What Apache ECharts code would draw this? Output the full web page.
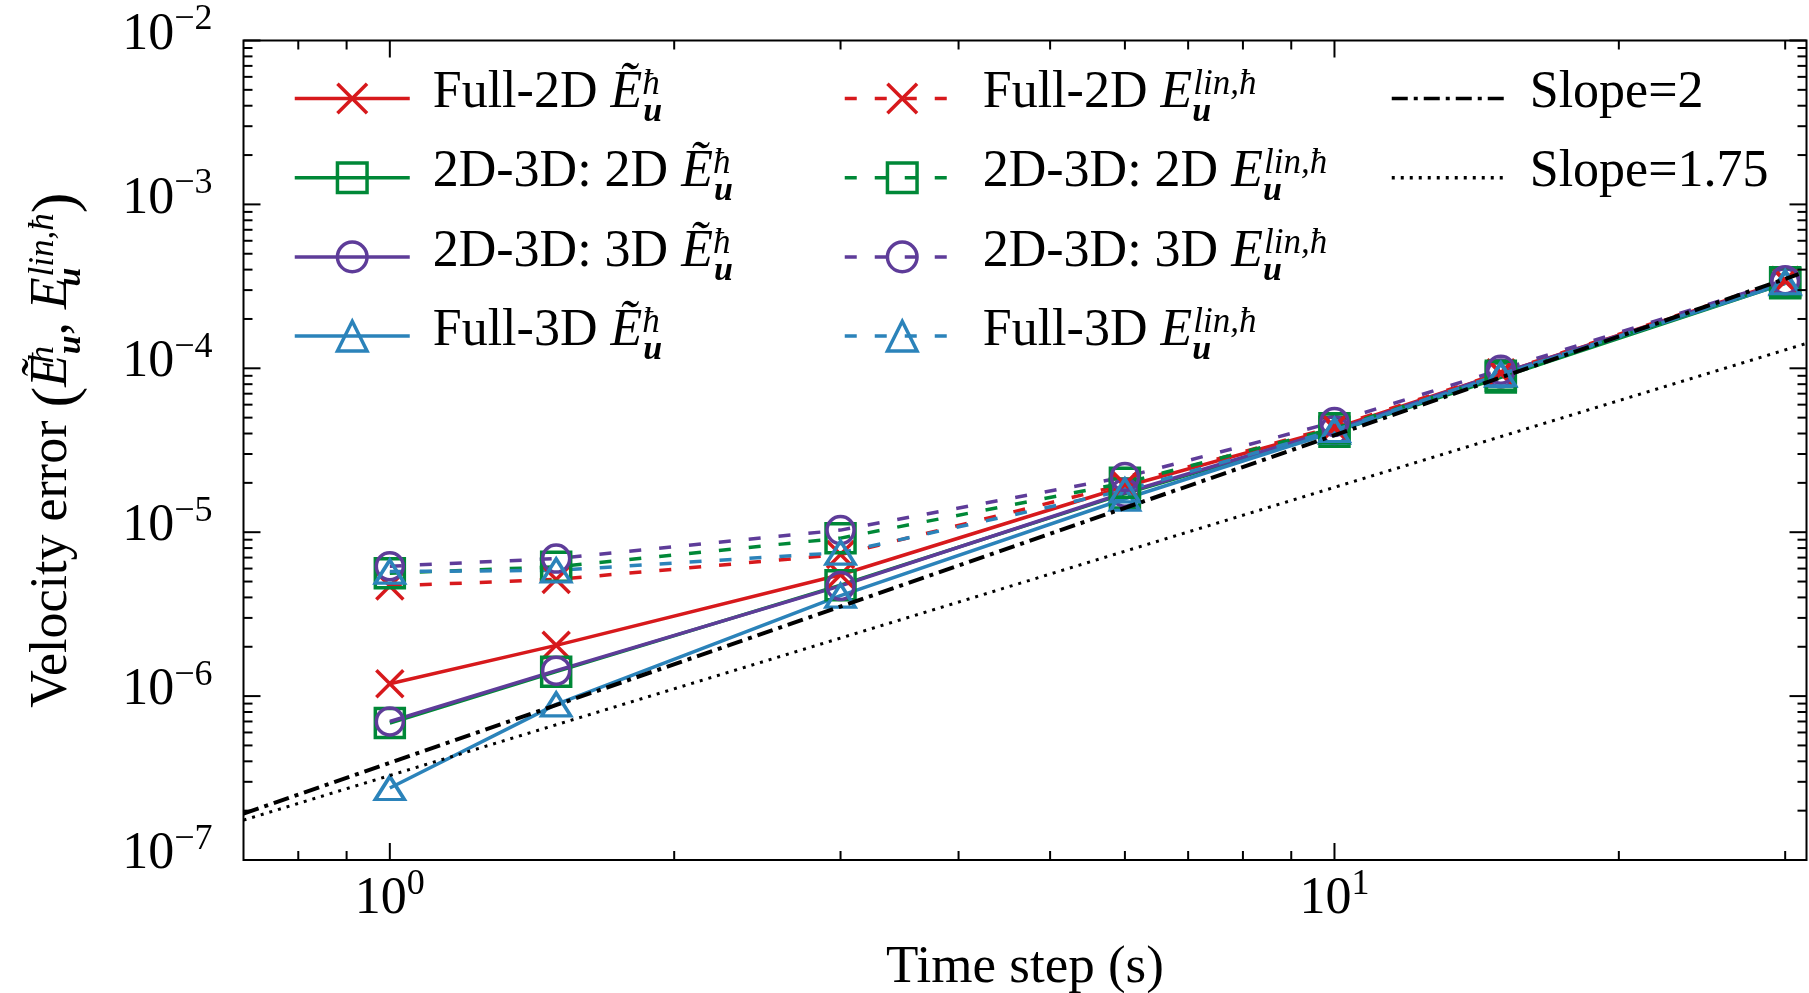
<!DOCTYPE html>
<html>
<head>
<meta charset="utf-8">
<script src="https://cdn.jsdelivr.net/npm/echarts@6/dist/echarts.min.js"></script>
<style>
  html, body { margin: 0; padding: 0; background: #ffffff; }
  #chart { width: 1809px; height: 993px; }
</style>
</head>
<body>
<div id="chart"></div>
<script>
// Time steps (s)
const timeSteps = [1, 1.5, 3, 6, 10, 15, 30];

// Velocity error, tilde-E (solid lines)
const full2dTilde   = [1.19e-6, 2.04e-6, 5.5e-6, 1.9e-5, 4.3e-5, 9.3e-5, 3.4e-4];
const split2dTilde  = [6.85e-7, 1.41e-6, 4.75e-6, 1.72e-5, 4.1e-5, 8.8e-5, 3.3e-4];
const split3dTilde  = [7.0e-7, 1.43e-6, 4.7e-6, 1.74e-5, 4.2e-5, 9.3e-5, 3.35e-4];
const full3dTilde   = [2.75e-7, 8.9e-7, 4.1e-6, 1.6e-5, 4.1e-5, 9.1e-5, 3.3e-4];

// Velocity error, linearised E (dashed lines)
const full2dLin  = [4.7e-6, 5.15e-6, 7.3e-6, 1.96e-5, 4.4e-5, 9.4e-5, 3.45e-4];
const split2dLin = [5.62e-6, 6.15e-6, 9.2e-6, 2.0e-5, 4.3e-5, 9.0e-5, 3.35e-4];
const split3dLin = [6.2e-6, 6.9e-6, 1.03e-5, 2.17e-5, 4.7e-5, 9.8e-5, 3.45e-4];
const full3dLin  = [5.75e-6, 5.85e-6, 7.5e-6, 1.8e-5, 4.2e-5, 9.2e-5, 3.35e-4];

// Reference slopes (end points)
const slope2X = [0.7, 31];
const slope2Y = [1.92e-7, 3.75e-4];
const slope175X = [0.7, 31.6];
const slope175Y = [1.75e-7, 1.42e-4];

// Axis ranges and ticks
const xRange = [0.7, 31.6];
const yRange = [1e-7, 1e-2];
const xMajorTicks = [1, 10];
const xMinorTicks = [0.8, 0.9, 2, 3, 4, 5, 6, 7, 8, 9, 20, 30];
const yMajorTicks = [1e-7, 1e-6, 1e-5, 1e-4, 1e-3, 1e-2];
const yMinorMantissas = [2, 3, 4, 5, 6, 7, 8, 9];

const seriesLabels = ['Full-2D', '2D-3D: 2D', '2D-3D: 3D', 'Full-3D'];
const colors = ['#d7191c', '#008837', '#5e3c99', '#2b83ba'];
const markers = ['path://M0,0L10,10M10,0L0,10', 'rect', 'circle', 'triangle'];
const markerSizes = [27, 29, 27, [29, 23]];

const FONT = 'Liberation Serif';
const LINE_W = 3.5;

const pair = (xs, ys) => xs.map((x, i) => [x, ys[i]]);

const tildeSets = [full2dTilde, split2dTilde, split3dTilde, full3dTilde];
const linSets = [full2dLin, split2dLin, split3dLin, full3dLin];

function dataSeries(i, values, dashed) {
  return {
    type: 'line',
    name: seriesLabels[i] + (dashed ? ' E' : ' Ẽ'),
    data: pair(timeSteps, values),
    symbol: markers[i],
    symbolSize: markerSizes[i],
    showSymbol: true,
    lineStyle: { color: colors[i], width: LINE_W, type: dashed ? [12, 18] : 'solid' },
    itemStyle: { color: 'transparent', borderColor: colors[i], borderWidth: LINE_W, borderJoin: 'miter' },
    emphasis: { disabled: true },
    z: 2
  };
}

const series = [];
tildeSets.forEach((v, i) => series.push(dataSeries(i, v, false)));
linSets.forEach((v, i) => series.push(dataSeries(i, v, true)));

series.push({
  type: 'line', name: 'Slope=2', data: pair(slope2X, slope2Y), symbol: 'none',
  lineStyle: { color: '#000', width: 4, type: [16, 6, 4, 6] },
  itemStyle: { color: 'transparent', borderWidth: 0 },
  emphasis: { disabled: true }, z: 3
});
series.push({
  type: 'line', name: 'Slope=1.75', data: pair(slope175X, slope175Y), symbol: 'none',
  lineStyle: { color: '#000', width: 3, type: [3, 6] },
  itemStyle: { color: 'transparent', borderWidth: 0 },
  emphasis: { disabled: true }, z: 3
});

// Inward ticks on all four sides of the frame
const tickData = [];
xMajorTicks.forEach(v => tickData.push([v, yRange[0], 0, 17]));
xMinorTicks.forEach(v => tickData.push([v, yRange[0], 0, 9]));
yMajorTicks.forEach(v => tickData.push([xRange[0], v, 1, 17]));
for (let e = -7; e <= -3; e++) {
  yMinorMantissas.forEach(m => tickData.push([xRange[0], m * Math.pow(10, e), 1, 9]));
}
series.push({
  type: 'custom',
  data: tickData,
  encode: { x: 0, y: 1 },
  silent: true,
  z: 5,
  renderItem(params, api) {
    const cs = params.coordSys;
    const kind = api.value(2);
    const len = api.value(3);
    const p = api.coord([api.value(0), api.value(1)]);
    const st = { stroke: '#000', lineWidth: 2 };
    if (kind === 0) {
      const x = p[0], yb = cs.y + cs.height, yt = cs.y;
      return { type: 'group', children: [
        { type: 'line', shape: { x1: x, y1: yb, x2: x, y2: yb - len }, style: st },
        { type: 'line', shape: { x1: x, y1: yt, x2: x, y2: yt + len }, style: st }
      ] };
    }
    const y = p[1], xl = cs.x, xr = cs.x + cs.width;
    return { type: 'group', children: [
      { type: 'line', shape: { x1: xl, y1: y, x2: xl + len, y2: y }, style: st },
      { type: 'line', shape: { x1: xr, y1: y, x2: xr - len, y2: y }, style: st }
    ] };
  }
});

// Rich text pieces for math-style labels
const mathRich = {
  b:   { fontFamily: FONT, fontSize: 52, color: '#000', verticalAlign: 'top' },
  e:   { fontFamily: FONT, fontSize: 52, fontStyle: 'italic', color: '#000', verticalAlign: 'top' },
  p:   { fontFamily: FONT, fontSize: 62, color: '#000', verticalAlign: 'top' },
  sp:  { fontFamily: FONT, fontSize: 35, fontStyle: 'italic', color: '#000', verticalAlign: 'top' },
  sp0: { fontFamily: FONT, fontSize: 35, fontStyle: 'italic', color: '#000', verticalAlign: 'top', width: 1 },
  sb:  { fontFamily: FONT, fontSize: 34, fontStyle: 'italic', fontWeight: 'bold', color: '#000', verticalAlign: 'top', padding: [28, 0, 0, 0] },
  sb0: { fontFamily: FONT, fontSize: 34, fontStyle: 'italic', fontWeight: 'bold', color: '#000', verticalAlign: 'top', padding: [28, 0, 0, 0], width: 1 }
};
const tildeMath = '{e|Ẽ}{sp0|ħ}{sb|u}';
const linMath = '{e|E}{sb0|u}{sp|lin,ħ}';

function legendText(name) {
  if (name.endsWith(' Ẽ')) return '{b|' + name.slice(0, -2) + ' }' + tildeMath;
  if (name.endsWith(' E')) return '{b|' + name.slice(0, -2) + ' }' + linMath;
  // keep the same line box as the entries with sub/superscripts
  return '{b|' + name + '}{sb0| }';
}

function makeLegend(names, left, lineWidth, borderWidth) {
  return {
    data: names, orient: 'vertical', left: left, top: 67.5, padding: 0,
    itemWidth: 115, itemHeight: 37, itemGap: 17.2, selectedMode: false,
    formatter: legendText,
    textStyle: { rich: mathRich, padding: [0, 0, 0, 18] },
    lineStyle: { width: lineWidth },
    itemStyle: { borderWidth: borderWidth }
  };
}

const tickRich = {
  b: { fontFamily: FONT, fontSize: 52, color: '#000', verticalAlign: 'top', padding: [7, 0, 0, 0] },
  s: { fontFamily: FONT, fontSize: 36, color: '#000', verticalAlign: 'top', padding: [0, 0, 41, 0] }
};
function decadeLabel(v) {
  const l = Math.log10(v);
  const e = Math.round(l);
  if (Math.abs(l - e) > 1e-6) return '';
  return '{b|10}{s|' + (e < 0 ? '−' : '') + Math.abs(e) + '}';
}

const option = {
  animation: false,
  backgroundColor: '#ffffff',
  grid: {
    left: 243.5, top: 40.5, right: 2.5, bottom: 133,
    show: true, borderColor: '#000', borderWidth: 2, backgroundColor: 'transparent',
    containLabel: false, outerBoundsMode: 'none'
  },
  xAxis: {
    type: 'log', logBase: 10, min: xRange[0], max: xRange[1],
    name: 'Time step (s)', nameLocation: 'middle', nameGap: 82,
    nameTextStyle: { fontFamily: FONT, fontSize: 53, color: '#000' },
    axisLine: { show: false }, axisTick: { show: false }, splitLine: { show: false },
    axisLabel: { formatter: decadeLabel, rich: tickRich, margin: 6.5, showMinLabel: true, showMaxLabel: true }
  },
  yAxis: {
    type: 'log', logBase: 10, min: yRange[0], max: yRange[1],
    name: '{b|Velocity error }{p|(}' + tildeMath + '{b|, }' + linMath + '{p|)}',
    nameLocation: 'middle', nameGap: 155, nameRotate: 90,
    nameTextStyle: { rich: mathRich },
    axisLine: { show: false }, axisTick: { show: false }, splitLine: { show: false },
    axisLabel: { formatter: decadeLabel, rich: tickRich, margin: 31 }
  },
  legend: [
    makeLegend(series.slice(0, 4).map(s => s.name), 293, LINE_W, LINE_W),
    makeLegend(series.slice(4, 8).map(s => s.name), 843, LINE_W, LINE_W),
    makeLegend(['Slope=2', 'Slope=1.75'], 1390, 3.5, 0)
  ],
  series: series
};

const chart = echarts.init(document.getElementById('chart'), null, { renderer: 'canvas' });
chart.setOption(option);
</script>
</body>
</html>
